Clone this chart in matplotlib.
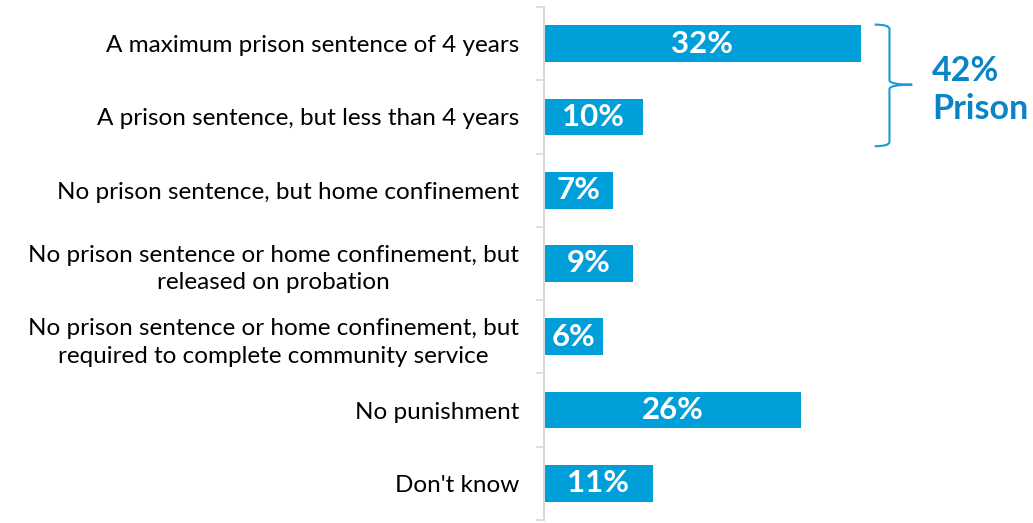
import matplotlib.pyplot as plt
from matplotlib.patches import PathPatch
from matplotlib.path import Path

plt.rcParams["font.family"] = ["Lato", "DejaVu Sans"]

categories = [
    "A maximum prison sentence of 4 years",
    "A prison sentence, but less than 4 years",
    "No prison sentence, but home confinement",
    "No prison sentence or home confinement, but\nreleased on probation",
    "No prison sentence or home confinement, but\nrequired to complete community service",
    "No punishment",
    "Don't know",
]
values = [32, 10, 7, 9, 6, 26, 11]
prison_total = "42%\nPrison"

bar_color = "#009FDA"
brace_color = "#1A9AD6"
note_color = "#0B84C6"
axis_gray = "#D9D9D9"

fig = plt.figure(figsize=(10.33, 5.23), dpi=100)
ax = fig.add_axes([544 / 1033, 3 / 523, 1 - 544 / 1033, 513 / 523])

y = list(range(len(categories)))
ax.barh(y, values, height=0.5, color=bar_color)
for yi, v in zip(y, values):
    ax.text(v / 2, yi, f"{v}%", ha="center", va="center",
            color="white", fontsize=22.5, fontweight="bold")

ax.set_xlim(0, 49.4)
ax.set_ylim(len(categories) - 0.5, -0.5)
ax.set_xticks([])
ax.set_yticks(y, categories, fontsize=17.5, ha="right")
ax.tick_params(axis="y", which="major", length=0, pad=18)
ax.set_yticks([i - 0.5 for i in range(len(categories) + 1)], minor=True)
ax.tick_params(axis="y", which="minor", length=6, width=1.2, color=axis_gray)
for lbl in ax.get_yticklabels():
    lbl.set_multialignment("center")
    lbl.set_linespacing(1.4)
for side in ["top", "right", "bottom"]:
    ax.spines[side].set_visible(False)
ax.spines["left"].set_color(axis_gray)
ax.spines["left"].set_linewidth(1.5)

# curly brace around the two prison rows
x0, x1, xt = 33.4, 34.9, 37.2
ytop, ymid, ybot = -0.26, 0.56, 1.40
r = 0.06
verts = [
    (x0, ytop), (x1, ytop), (x1, ytop + r),
    (x1, ymid - r), (x1, ymid), (xt, ymid),
    (xt, ymid), (x1, ymid), (x1, ymid + r),
    (x1, ybot - r), (x1, ybot), (x0, ybot),
]
codes = [
    Path.MOVETO, Path.CURVE3, Path.CURVE3,
    Path.LINETO, Path.CURVE3, Path.CURVE3,
    Path.MOVETO, Path.CURVE3, Path.CURVE3,
    Path.LINETO, Path.CURVE3, Path.CURVE3,
]
ax.add_patch(PathPatch(Path(verts, codes), facecolor="none",
                       edgecolor=brace_color, linewidth=1.5, clip_on=False))

ax.text(39.2, 0.63, prison_total, ha="left", va="center",
        color=note_color, fontsize=24.5, fontweight="bold", linespacing=1.25)

fig.savefig("out.png", dpi=100)
